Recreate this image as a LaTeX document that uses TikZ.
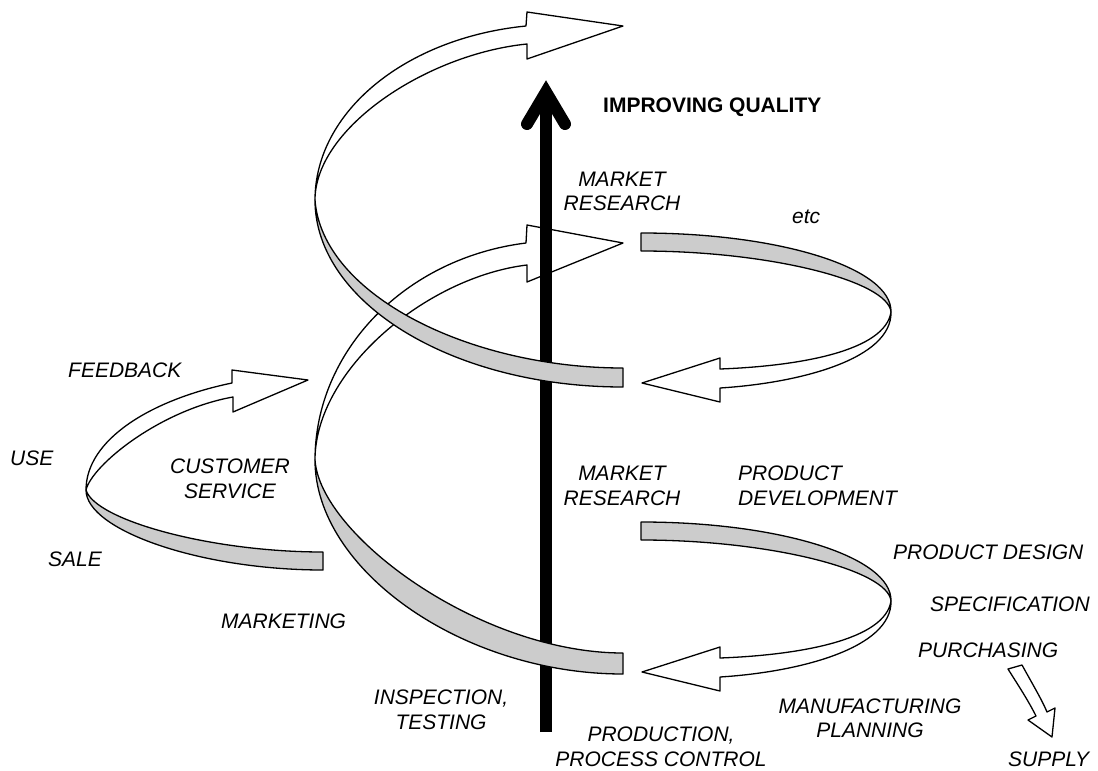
\documentclass[tikz,border=0pt]{standalone}
\usepackage{fontspec}
\setmainfont{Liberation Sans}
\definecolor{ribbongrey}{RGB}{204,204,204}
\begin{document}
\begin{tikzpicture}[x=1pt,y=-1pt,
  band/.style={draw=black, line width=1.3pt, line join=round},
  frontside/.style={band, fill=white},
  backside/.style={band, fill=ribbongrey},
  lab/.style={font=\fontsize{21}{24.5}\selectfont\itshape, inner sep=0pt},
  title/.style={font=\fontsize{21}{24.5}\selectfont\bfseries, inner sep=0pt},
  axis/.style={line width=12pt, draw=black},
  rightloop/.pic={
    % grey outward half of a right-hand turn
    \path[backside] (641,522) .. controls (780,522) and (892,557) .. (891,601)
      .. controls (888,570) and (770,540) .. (641,540) -- cycle;
    % white return half with its arrow head
    \path[frontside] (891,601) .. controls (892,648) and (800,672) .. (720,677)
      -- (720,691) -- (642,672) -- (720,647) -- (720,658)
      .. controls (800,655) and (885,640) .. (891,601) -- cycle;
  }]
\useasboundingbox (0,0) rectangle (1098,771);

% ---- white (rear) halves of the big left turns
\path[frontside] (315,200) .. controls (315,112) and (405,38) .. (526,26)
  -- (527,12) -- (623,26) -- (527,59) -- (527,44)
  .. controls (427,54) and (315,128) .. (315,200) -- cycle;
\path[frontside] (315,460) .. controls (315,351) and (405,258) .. (526,243)
  -- (527,225) -- (623,243) -- (527,282) -- (527,265)
  .. controls (427,277) and (315,370) .. (315,460) -- cycle;

% ---- small loop: use, feedback
\path[frontside] (86,490) .. controls (86,440) and (150,400) .. (232,383)
  -- (232,370) -- (308,380) -- (233,412) -- (233,397)
  .. controls (160,410) and (92,465) .. (86,490) -- cycle;

% ---- right-hand turns
\pic at (0,0) {rightloop};
\pic at (0,-289) {rightloop};

% ---- quality axis
\draw[axis, line cap=butt] (546,732) -- (546,100);
\draw[axis, line cap=round, line join=miter] (527,124) -- (546,92) -- (565,124);

% ---- grey (front) halves of the big left turns
\path[backside] (315,200) .. controls (315,303) and (453,387) .. (623,387)
  -- (623,368) .. controls (470,368) and (322,295) .. (315,200) -- cycle;
\path[backside] (315,460) .. controls (315,570) and (463,674) .. (623,674)
  -- (623,653) .. controls (480,653) and (320,535) .. (315,460) -- cycle;
\path[backside] (86,490) .. controls (86,530) and (200,570) .. (323,570)
  -- (323,552) .. controls (210,552) and (95,520) .. (86,490) -- cycle;

% ---- purchasing to supply
\path[frontside] (1008,669) -- (1022,665) .. controls (1033,685) and (1042,700) .. (1047,712)
  -- (1055,708) -- (1052,737) -- (1028,720) -- (1036,716)
  .. controls (1028,700) and (1018,685) .. (1008,669) -- cycle;

% ---- labels
\node[title, anchor=base west] (quality) at (603,112) {IMPROVING QUALITY};
\node[lab, align=center] (mr2) at (622,191.5) {MARKET\\RESEARCH};
\node[lab, anchor=base west] (etc) at (792,223) {etc};
\node[lab, anchor=base west] (feedback) at (68,377) {FEEDBACK};
\node[lab, anchor=base west] (use) at (10,465) {USE};
\node[lab, align=center] (custserv) at (230,479) {CUSTOMER\\SERVICE};
\node[lab, anchor=base west] (sale) at (48,566) {SALE};
\node[lab, anchor=base west] (marketing) at (221,628) {MARKETING};
\node[lab, align=center] (mr1) at (622,486) {MARKET\\RESEARCH};
\node[lab, align=left, anchor=west] (proddev) at (738,486) {PRODUCT\\DEVELOPMENT};
\node[lab, anchor=base west] (design) at (893,559) {PRODUCT DESIGN};
\node[lab, anchor=base west] (spec) at (930,611) {SPECIFICATION};
\node[lab, anchor=base west] (purch) at (918,657) {PURCHASING};
\node[lab, align=center] (mfgplan) at (870,718.5) {MANUFACTURING\\PLANNING};
\node[lab, align=center] (inspect) at (441,710) {INSPECTION,\\TESTING};
\node[lab, align=center] (prodctl) at (661,747) {PRODUCTION,\\PROCESS CONTROL};
\node[lab, anchor=base west] (supply) at (1008,766) {SUPPLY};
\end{tikzpicture}
\end{document}
